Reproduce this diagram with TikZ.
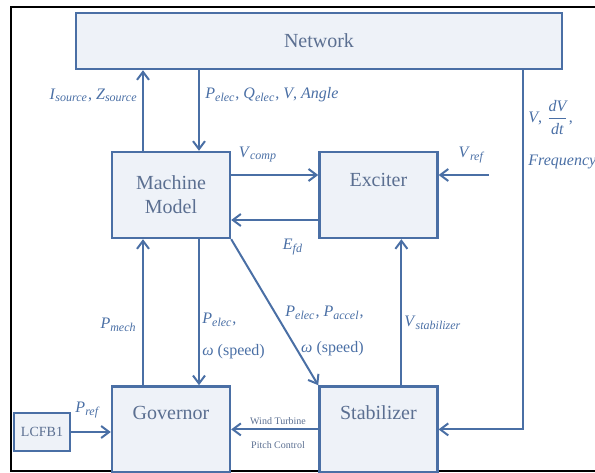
\documentclass[tikz,border=0pt]{standalone}
\usepackage{fontspec}
\setmainfont{LiberationSerif-Regular.ttf}[BoldFont=LiberationSerif-Bold.ttf, ItalicFont=LiberationSerif-Italic.ttf, BoldItalicFont=LiberationSerif-BoldItalic.ttf]
\usetikzlibrary{arrows.meta, positioning}

\definecolor{lineblue}{HTML}{4A6FA5}
\definecolor{boxfill}{HTML}{EEF2F8}
\definecolor{txtblue}{HTML}{5B6F91}

% italic symbol with italic subscript
\newcommand{\sym}[2]{\textit{#1}\textsubscript{\textit{#2}}}

\tikzset{
  block/.style={draw=lineblue, line width=1.2pt, fill=boxfill, text=txtblue, align=center,
                font=\fontsize{10}{12}\selectfont, minimum width=59pt, minimum height=43pt, inner sep=0pt},
  lbl/.style={text=lineblue, font=\fontsize{8}{9.6}\selectfont, inner sep=1pt},
  link/.style={draw=lineblue, line width=1pt, ->},
}

\begin{document}
\begin{tikzpicture}[>={Straight Barb[length=4pt, width=6pt]}, node distance=43.5pt]

\useasboundingbox (0,0) rectangle (297.5pt,-236pt);
\draw[line width=0.8pt] (297.5pt,-3.5pt) -- (5.5pt,-3.5pt) -- (5.5pt,-235.6pt) -- (297.5pt,-235.6pt);

\node[block, minimum width=243pt, minimum height=28pt] (net) at (159.5pt,-20.5pt) {Network};
\node[block] (mach) at (85.5pt,-97.5pt) {Machine\\Model};
\node[block, right=of mach] (exc) {Exciter\\[3pt]\mbox{}};
\node[block, below=73pt of mach] (gov) {Governor\\[5pt]\mbox{}};
\node[block, right=of gov] (stab) {Stabilizer\\[5pt]\mbox{}};
\node[block, minimum width=28pt, minimum height=19pt, font=\fontsize{7}{8}\selectfont] (lcfb) at (21pt,-216pt) {LCFB1};

\coordinate (vrefin) at ([xshift=25pt, yshift=10pt]exc.east);
\coordinate (tap) at (261.5pt,-120pt);

% network links
\draw[link] ([xshift=-14pt]mach.north) -- ([xshift=-14pt]mach.north |- net.south);
\draw[link] ([xshift=14pt]mach.north |- net.south) -- ([xshift=14pt]mach.north);
\draw[link] (net.south -| tap) -- (tap |- stab.east) -- (stab.east);

% exciter loop
\draw[link] ([yshift=10pt]mach.east) -- ([yshift=10pt]mach.east -| exc.west);
\draw[link] ([yshift=-12.5pt]exc.west) -- ([yshift=-12.5pt]exc.west -| mach.east);
\draw[link] (vrefin) -- ([yshift=10pt]exc.east);

% lower blocks
\draw[link] ([xshift=-14pt]gov.north) -- ([xshift=-14pt]mach.south);
\draw[link] ([xshift=14pt]mach.south) -- ([xshift=14pt]gov.north);
\draw[link] (mach.south east) -- (stab.north west);
\draw[link] ([xshift=11.5pt]stab.north) -- ([xshift=11.5pt]exc.south);
\draw[link] (stab.west) -- (gov.east);
\draw[link] (lcfb.east) -- (lcfb.east -| gov.west);

% labels
\node[lbl, anchor=east] (isrc) at (70pt,-47.5pt) {\sym{I}{source}, \sym{Z}{source}};
\node[lbl, anchor=west] (pq) at (101.5pt,-47.5pt) {\sym{P}{elec}, \sym{Q}{elec}, \textit{V}, \textit{Angle}};
\node[lbl] (vcomp) at (129pt,-77.5pt) {\sym{V}{comp}};
\node[lbl] (efd) at (146.5pt,-123.5pt) {\sym{E}{fd}};
\node[lbl] (vref) at (236pt,-77.5pt) {\sym{V}{ref}};
\node[lbl, anchor=north west, align=left] (vdv) at (263pt,-49pt)
  {\textit{V}, $\displaystyle\frac{\textit{dV}}{\textit{dt}}$,\\[9pt]\textit{Frequency}};
\node[lbl, anchor=east] (pmech) at (69.5pt,-162.5pt) {\sym{P}{mech}};
\node[lbl, anchor=west, align=left] (pelec) at (100pt,-168pt) {\sym{P}{elec},\\[6pt]\textit{ω} (speed)};
\node[lbl, anchor=east, align=right] (paccel) at (183pt,-165.5pt) {\sym{P}{elec}, \sym{P}{accel},\\[8pt]\textit{ω} (speed)};
\node[lbl, anchor=west] (vstab) at (201pt,-161.5pt) {\sym{V}{stabilizer}};
\node[lbl] (pref) at (44pt,-205pt) {\sym{P}{ref}};
\node[lbl, text=txtblue, font=\fontsize{5}{6}\selectfont, align=center] (wind) at (139pt,-216.5pt)
  {Wind Turbine\\[6pt]Pitch Control};

\end{tikzpicture}
\end{document}
